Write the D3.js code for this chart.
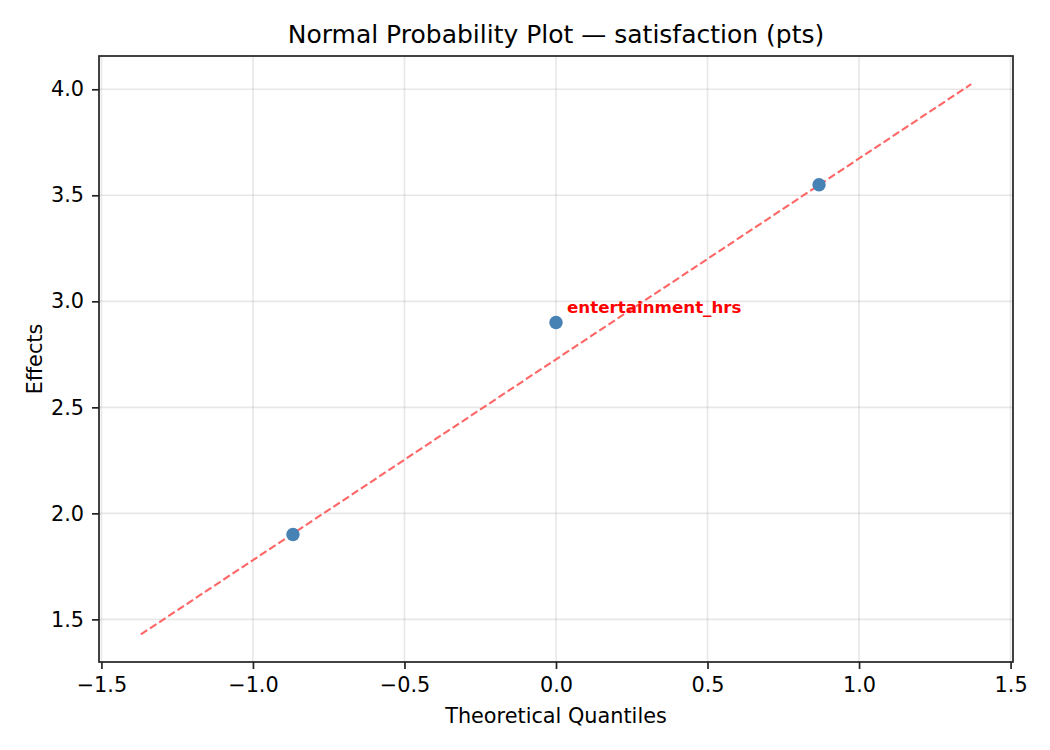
<!DOCTYPE html>
<html>
<head>
<meta charset="utf-8">
<script src="https://cdn.jsdelivr.net/npm/d3@7"></script>
<style>
    body { margin: 0; background: #fff; }
    text { font-family: "DejaVu Sans", sans-serif; }
</style>
</head>
<body>
<svg id="chart" width="1050" height="750"></svg>
<script>
// data
let quantiles = [-0.868, 0.0, 0.868];
let effects = [1.90, 2.90, 3.55];
let labels = ["", "entertainment_hrs", ""];
let fit_x = [-1.37, 1.37];
let fit_y = [1.429, 4.024];
let x_ticks = [-1.5, -1.0, -0.5, 0.0, 0.5, 1.0, 1.5];
let y_ticks = [1.5, 2.0, 2.5, 3.0, 3.5, 4.0];

let margin = { top: 56, right: 37, bottom: 88, left: 99 };
let width = 1050 - margin.left - margin.right;
let height = 750 - margin.top - margin.bottom;

let svg = d3.select("#chart");
let g = svg.append("g").attr("transform", "translate(" + margin.left + "," + margin.top + ")");

let xScale = d3.scaleLinear().domain([-1.508, 1.508]).range([0, width]);
let yScale = d3.scaleLinear().domain([1.299, 4.157]).range([height, 0]);

// grid
g.append("g").selectAll("line")
    .data(x_ticks)
    .enter().append("line")
    .attr("x1", function (d) { return xScale(d); })
    .attr("x2", function (d) { return xScale(d); })
    .attr("y1", 0)
    .attr("y2", height)
    .attr("stroke", "#b0b0b0")
    .attr("stroke-opacity", 0.3)
    .attr("stroke-width", 1.6);

g.append("g").selectAll("line")
    .data(y_ticks)
    .enter().append("line")
    .attr("x1", 0)
    .attr("x2", width)
    .attr("y1", function (d) { return yScale(d); })
    .attr("y2", function (d) { return yScale(d); })
    .attr("stroke", "#b0b0b0")
    .attr("stroke-opacity", 0.3)
    .attr("stroke-width", 1.6);

// axes
let xAxis = g.append("g")
    .attr("transform", "translate(0," + height + ")")
    .call(d3.axisBottom(xScale).tickValues(x_ticks).tickFormat(d3.format(".1f")).tickSize(7).tickPadding(8));
let yAxis = g.append("g")
    .call(d3.axisLeft(yScale).tickValues(y_ticks).tickFormat(d3.format(".1f")).tickSize(7).tickPadding(8));

[xAxis, yAxis].forEach(function (a) {
    a.select(".domain").remove();
    a.selectAll(".tick line").attr("stroke", "#222").attr("stroke-width", 1.7);
    a.selectAll(".tick text").attr("fill", "#000").style("font-size", "20.8px").style("font-family", "DejaVu Sans");
});

// frame
g.append("rect")
    .attr("x", 0).attr("y", 0)
    .attr("width", width).attr("height", height)
    .attr("fill", "none")
    .attr("stroke", "#222")
    .attr("stroke-width", 1.7);

// fitted line
g.append("line")
    .attr("x1", xScale(fit_x[0]))
    .attr("y1", yScale(fit_y[0]))
    .attr("x2", xScale(fit_x[1]))
    .attr("y2", yScale(fit_y[1]))
    .attr("stroke", "#ff6666")
    .attr("stroke-width", 2.1)
    .attr("stroke-dasharray", "7.7,3.3");

// points
g.selectAll(".dot")
    .data(effects)
    .enter().append("circle")
    .attr("class", "dot")
    .attr("cx", function (d, i) { return xScale(quantiles[i]); })
    .attr("cy", function (d) { return yScale(d); })
    .attr("r", 6.7)
    .attr("fill", "steelblue");

g.append("g").selectAll("text")
    .data(effects)
    .enter().append("text")
    .attr("x", function (d, i) { return xScale(quantiles[i]) + 11; })
    .attr("y", function (d) { return yScale(d) - 10; })
    .attr("fill", "red")
    .attr("font-weight", "bold")
    .style("font-size", "16.7px")
    .text(function (d, i) { return labels[i]; });

// titles
svg.append("text")
    .attr("x", margin.left + width / 2)
    .attr("y", 43)
    .attr("text-anchor", "middle")
    .style("font-size", "25px")
    .text("Normal Probability Plot \u2014 satisfaction (pts)");

svg.append("text")
    .attr("x", margin.left + width / 2)
    .attr("y", 723)
    .attr("text-anchor", "middle")
    .style("font-size", "20.8px")
    .text("Theoretical Quantiles");

svg.append("text")
    .attr("transform", "translate(41.5," + (margin.top + height / 2) + ") rotate(-90)")
    .attr("text-anchor", "middle")
    .style("font-size", "20.8px")
    .text("Effects");
</script>
</body>
</html>
